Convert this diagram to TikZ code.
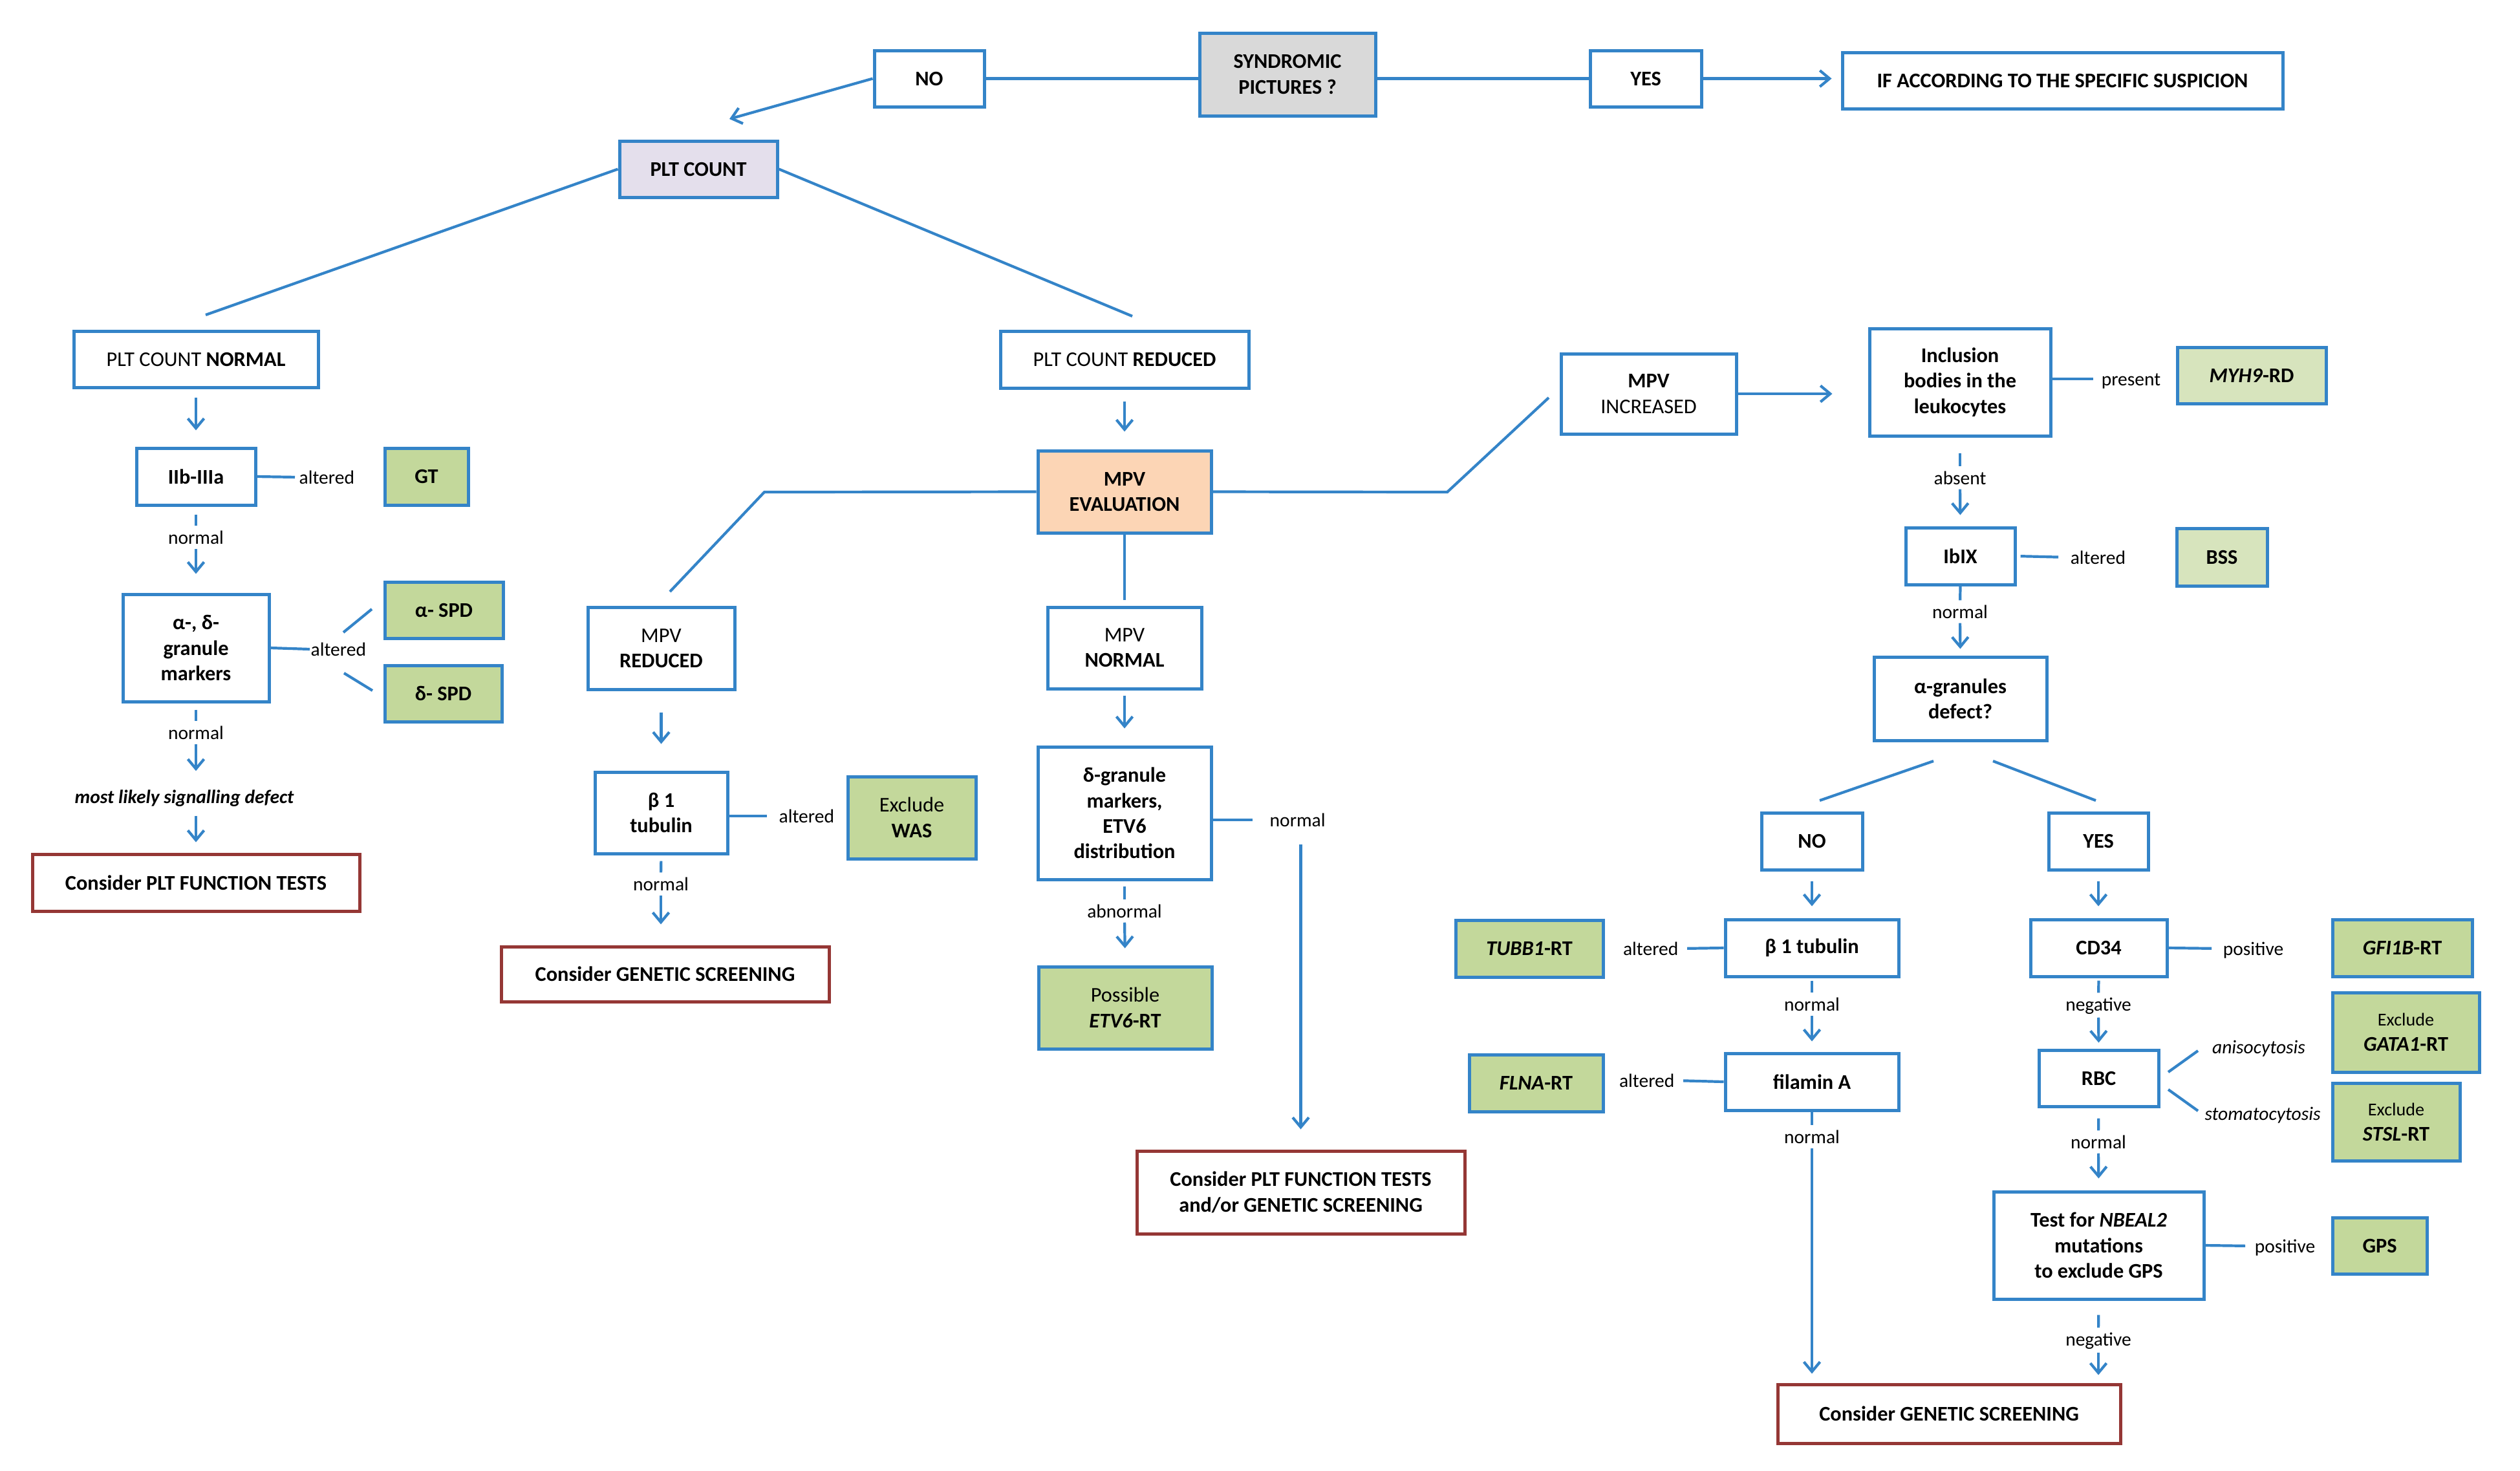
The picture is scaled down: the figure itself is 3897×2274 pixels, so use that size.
\documentclass[tikz,border=0pt]{standalone}
\usepackage{fontspec}
\setmainfont{Carlito}
\usetikzlibrary{arrows.meta}
\definecolor{bl}{RGB}{52,132,200}
\definecolor{gr}{RGB}{195,216,155}
\definecolor{lgr}{RGB}{215,228,189}
\definecolor{pch}{RGB}{252,213,181}
\definecolor{gry}{RGB}{217,217,217}
\definecolor{lav}{RGB}{228,223,236}
\definecolor{dred}{RGB}{149,55,53}
\newcommand\bxfont{\fontsize{9.2}{11.2}\selectfont}
\newcommand\lbfont{\fontsize{8.4}{10}\selectfont}
\newcommand\mybox[7]{\node[#2, minimum width={(#5-#3)*0.1mm}, minimum height={(#6-#4)*0.1mm}] (#1) at ({(#3+#5)/2},{(#4+#6)/2}) {#7};}
\tikzset{
 base/.style={draw=bl, line width=0.5mm, inner sep=0.5mm, align=center, font=\bxfont\bfseries},
 wbox/.style={base, fill=white},
 gbox/.style={base, fill=gr},
 lgbox/.style={base, fill=lgr},
 sbox/.style={base, fill=gry},
 lbox/.style={base, fill=lav},
 pbox/.style={base, fill=pch},
 rbox/.style={base, draw=dred, fill=white},
 lab/.style={inner sep=0pt, text height=2mm, text depth=0pt, font=\lbfont},
 ln/.style={draw=bl, line width=0.42mm},
 arr/.style={ln, -{Straight Barb[length=1.5mm,width=2.5mm]}},
}
\begin{document}
\begin{tikzpicture}[x=0.1mm,y=-0.1mm]
\useasboundingbox (0,0) rectangle (3897,2274);
% top
\mybox{no1}{wbox}{1352}{78}{1522}{165}{NO}
\mybox{synd}{sbox}{1855}{51}{2127}{179}{SYNDROMIC\\PICTURES ?}
\mybox{yes1}{wbox}{2459}{78}{2631}{165}{YES}
\mybox{ifacc}{wbox}{2849}{81}{3530}{168}{IF ACCORDING TO THE SPECIFIC SUSPICION}
\mybox{pltc}{lbox}{958}{218}{1202}{305}{PLT COUNT}
\mybox{pltn}{wbox}{114}{512}{492}{599}{{\mdseries PLT COUNT} NORMAL}
\mybox{pltr}{wbox}{1547}{512}{1931}{600}{{\mdseries PLT COUNT} REDUCED}
% left
\mybox{iib}{wbox}{211}{693}{395}{781}{IIb-IIIa}
\mybox{gt}{gbox}{595}{693}{724}{781}{GT}
\mybox{gran}{wbox}{190}{919}{416}{1085}{α-, δ-\\granule\\markers}
\mybox{aspd}{gbox}{595}{900}{778}{987}{α- SPD}
\mybox{dspd}{gbox}{595}{1029}{776}{1116}{δ- SPD}
\mybox{cplt}{rbox}{50}{1321}{556}{1409}{Consider PLT FUNCTION TESTS}
\node[lab, font=\lbfont\bfseries\itshape] (sig) at (285,1232) {most likely signalling defect};
% mid-left
\mybox{mpve}{pbox}{1605}{697}{1873}{824}{MPV\\EVALUATION}
\mybox{mpvr}{wbox}{909}{939}{1136}{1066}{{\mdseries MPV}\\REDUCED}
\mybox{btub1}{wbox}{920}{1194}{1125}{1320}{β 1\\tubulin}
\mybox{was}{gbox}{1311}{1201}{1509}{1328}{{\mdseries Exclude}\\WAS}
\mybox{cgen1}{rbox}{775}{1464}{1282}{1549}{Consider GENETIC SCREENING}
% mid
\mybox{mpvn}{wbox}{1620}{939}{1858}{1065}{{\mdseries MPV}\\NORMAL}
\mybox{dgran}{wbox}{1605}{1155}{1873}{1360}{δ-granule\\markers,\\ETV6\\distribution}
\mybox{etv6}{gbox}{1606}{1495}{1874}{1622}{{\mdseries Possible}\\\textit{ETV6}-RT}
\mybox{cpltgen}{rbox}{1758}{1780}{2265}{1908}{Consider PLT FUNCTION TESTS\\and/or GENETIC SCREENING}
% right
\mybox{mpvi}{wbox}{2414}{547}{2685}{671}{MPV\\{\mdseries INCREASED}}
\mybox{incl}{wbox}{2891}{508}{3171}{674}{Inclusion\\bodies in the\\leukocytes}
\mybox{myh9}{lgbox}{3367}{537}{3597}{624}{\textit{MYH9}-RD}
\mybox{ibix}{wbox}{2947}{816}{3116}{904}{IbIX}
\mybox{bss}{lgbox}{3366}{817}{3506}{906}{BSS}
\mybox{agran}{wbox}{2898}{1016}{3165}{1145}{α-granules\\defect?}
\mybox{no2}{wbox}{2724}{1257}{2880}{1345}{NO}
\mybox{yes2}{wbox}{3168}{1257}{3322}{1345}{YES}
\mybox{tubb1}{gbox}{2251}{1423}{2479}{1511}{\textit{TUBB1}-RT}
\mybox{btub2}{wbox}{2668}{1422}{2936}{1510}{β 1 tubulin}
\mybox{cd34}{wbox}{3140}{1422}{3351}{1510}{CD34}
\mybox{gfi1b}{gbox}{3607}{1422}{3823}{1510}{\textit{GFI1B}-RT}
\mybox{flna}{gbox}{2272}{1631}{2479}{1719}{\textit{FLNA}-RT}
\mybox{fila}{wbox}{2668}{1629}{2936}{1717}{filamin A}
\mybox{rbc}{wbox}{3153}{1624}{3338}{1711}{RBC}
\mybox{gata1}{gbox}{3607}{1535}{3834}{1658}{{\mdseries\fontsize{8}{10}\selectfont Exclude}\\\textit{GATA1}-RT}
\mybox{stsl}{gbox}{3607}{1675}{3804}{1795}{{\mdseries\fontsize{8}{10}\selectfont Exclude}\\\textit{STSL}-RT}
\mybox{nbeal}{wbox}{3083}{1843}{3408}{2009}{Test for \textit{NBEAL2}\\mutations\\to exclude GPS}
\mybox{gps}{gbox}{3607}{1883}{3753}{1970}{GPS}
\mybox{cgen2}{rbox}{2749}{2141}{3279}{2232}{Consider GENETIC SCREENING}
% labels
\node[lab, anchor=west] (alt1) at (462,738) {altered};
\node[lab, anchor=west] (alt2) at (480,1004) {altered};
\node[lab] (n1) at (303,831) {normal};
\node[lab] (n2) at (303,1133) {normal};
\node[lab, anchor=west] (alt3) at (1204,1262) {altered};
\node[lab] (n3) at (1022,1367) {normal};
\node[lab, anchor=west] (n5) at (1963,1268) {normal};
\node[lab] (abn) at (1739,1409) {abnormal};
\node[lab, anchor=west] (pres) at (3249,586) {present};
\node[lab] (absn) at (3031,739) {absent};
\node[lab, anchor=west] (alt4) at (3201,862) {altered};
\node[lab] (n6) at (3031,946) {normal};
\node[lab, anchor=east] (alt5) at (2596,1467) {altered};
\node[lab, anchor=east] (alt6) at (2590,1671) {altered};
\node[lab] (n7) at (2802,1553) {normal};
\node[lab] (neg1) at (3245,1553) {negative};
\node[lab, anchor=west] (pos1) at (3437,1467) {positive};
\node[lab] (n8) at (2802,1758) {normal};
\node[lab] (n9) at (3245,1766) {normal};
\node[lab, anchor=west] (pos2) at (3486,1927) {positive};
\node[lab] (neg2) at (3245,2071) {negative};
\node[lab, font=\lbfont\itshape] (aniso) at (3493,1619) {anisocytosis};
\node[lab, font=\lbfont\itshape] (stoma) at (3499,1722) {stomatocytosis};
% coordinates
\coordinate (c0) at (1128,184);
\coordinate (c1) at (318,487);
\coordinate (c2) at (1751,489);
\coordinate (d1a) at (531,978); \coordinate (d1b) at (575,942);
\coordinate (d2a) at (532,1041); \coordinate (d2b) at (576,1068);
\coordinate (b1) at (1182,761); \coordinate (b2) at (1036,915);
\coordinate (b3) at (2238,761); \coordinate (b4) at (2395,615);
\coordinate (e1a) at (2990,1177); \coordinate (e1b) at (2814,1238);
\coordinate (e2a) at (3082,1177); \coordinate (e2b) at (3241,1238);
\coordinate (r1a) at (3353,1658); \coordinate (r1b) at (3399,1625);
\coordinate (r2a) at (3353,1685); \coordinate (r2b) at (3399,1718);
% top connectors
\draw[ln] (no1.east) -- (no1.east -| synd.west);
\draw[ln] (yes1.west) -- (yes1.west -| synd.east);
\draw[arr, shorten >=1.4mm] (yes1.east) -- (yes1.east -| ifacc.west);
\draw[arr] (no1.west) -- (c0);
\draw[ln] (pltc.west) -- (c1);
\draw[ln] (pltc.east) -- (c2);
% left column
\draw[arr, shorten <=1.3mm, shorten >=2.5mm] (pltn.south) -- (iib.north);
\draw[ln, shorten >=0.6mm] (iib.east) -- (alt1.west);
\draw[ln, shorten <=1.2mm, shorten >=0.7mm] (iib.south) -- (n1.north);
\draw[arr, shorten <=0.7mm, shorten >=2.9mm] (n1.south) -- (gran.north);
\draw[ln, shorten >=0.1mm] (gran.east) -- (alt2.west);
\draw[ln] (d1a) -- (d1b);
\draw[ln] (d2a) -- (d2b);
\draw[ln, shorten <=1.0mm, shorten >=0.7mm] (gran.south) -- (n2.north);
\draw[arr, shorten <=0.7mm, shorten >=2.9mm] (n2.south) -- (n2.south |- sig.north);
\draw[arr, shorten <=1.9mm, shorten >=1.6mm] (n2.south |- sig.south) -- (cplt.north);
% mid-left
\draw[arr, shorten <=1.8mm, shorten >=2.7mm] (pltr.south) -- (mpve.north);
\draw[ln] (mpve.west) -- (b1) -- (b2);
\draw[arr, shorten <=3.3mm, shorten >=4.1mm] (mpvr.south) -- (btub1.north);
\draw[ln, shorten >=1.8mm] (btub1.east |- alt3.west) -- (alt3.west);
\draw[ln, shorten <=0.9mm, shorten >=0.7mm] (btub1.south) -- (n3.north);
\draw[arr, shorten <=0.7mm, shorten >=3.2mm] (n3.south) -- (n3.south |- cgen1.north);
% mid
\draw[ln, shorten >=0.9mm] (mpve.south) -- (mpvn.north);
\draw[arr, shorten <=0.8mm, shorten >=2.6mm] (mpvn.south) -- (dgran.north);
\draw[ln, shorten >=2.6mm] (dgran.east |- n5.west) -- (n5.west);
\draw[arr, shorten <=2.7mm, shorten >=3.1mm] (n5.south -| cpltgen.north) -- (cpltgen.north);
\draw[ln, shorten <=0.8mm, shorten >=0.7mm] (dgran.south) -- (abn.north);
\draw[arr, shorten <=0.7mm, shorten >=2.6mm] (abn.south) -- (etv6.north);
\draw[ln] (mpve.east) -- (b3) -- (b4);
% right
\draw[arr, shorten >=5.5mm] (mpvi.east) -- (mpvi.east -| incl.west);
\draw[ln, shorten >=1.2mm] (incl.east |- pres.west) -- (pres.west);
\draw[ln, shorten <=2.4mm, shorten >=0.7mm] (incl.south) -- (absn.north);
\draw[arr, shorten <=0.7mm, shorten >=1.7mm] (absn.south) -- (ibix.north);
\draw[ln, shorten <=0.6mm, shorten >=1.8mm] (ibix.east) -- (alt4.west);
\draw[ln, shorten >=0.7mm] (ibix.south) -- (n6.north);
\draw[arr, shorten <=0.7mm, shorten >=1.0mm] (n6.south) -- (agran.north);
\draw[ln] (e1a) -- (e1b);
\draw[ln] (e2a) -- (e2b);
\draw[arr, shorten <=1.5mm, shorten >=1.8mm] (no2.south) -- (btub2.north);
\draw[arr, shorten <=1.5mm, shorten >=1.8mm] (yes2.south) -- (yes2.south |- cd34.north);
\draw[ln, shorten >=1.3mm] (btub2.west) -- (alt5.east);
\draw[ln, shorten >=1.3mm] (fila.west) -- (alt6.east);
\draw[ln, shorten >=1.7mm] (cd34.east) -- (pos1.west);
\draw[ln, shorten <=0.4mm, shorten >=0.7mm] (btub2.south) -- (n7.north);
\draw[arr, shorten <=0.7mm, shorten >=1.6mm] (n7.south) -- (fila.north);
\draw[ln, shorten <=0.4mm, shorten >=0.7mm] (cd34.south) -- (neg1.north);
\draw[arr, shorten <=1.0mm, shorten >=0.9mm] (neg1.south) -- (rbc.north);
\draw[ln, shorten >=0.7mm] (fila.south) -- (n8.north);
\draw[arr, shorten <=0.7mm, shorten >=1.4mm] (n8.south) -- (n8.south |- cgen2.north);
\draw[ln] (r1a) -- (r1b);
\draw[ln] (r2a) -- (r2b);
\draw[ln, shorten <=1.6mm, shorten >=0.7mm] (rbc.south) -- (n9.north);
\draw[arr, shorten <=0.7mm, shorten >=1.8mm] (n9.south) -- (nbeal.north);
\draw[ln, shorten >=1.4mm] (nbeal.east) -- (pos2.west);
\draw[ln, shorten <=2.2mm, shorten >=0.7mm] (nbeal.south) -- (neg2.north);
\draw[arr, shorten <=1.0mm, shorten >=1.2mm] (neg2.south) -- (neg2.south |- cgen2.north);
\end{tikzpicture}
\end{document}
